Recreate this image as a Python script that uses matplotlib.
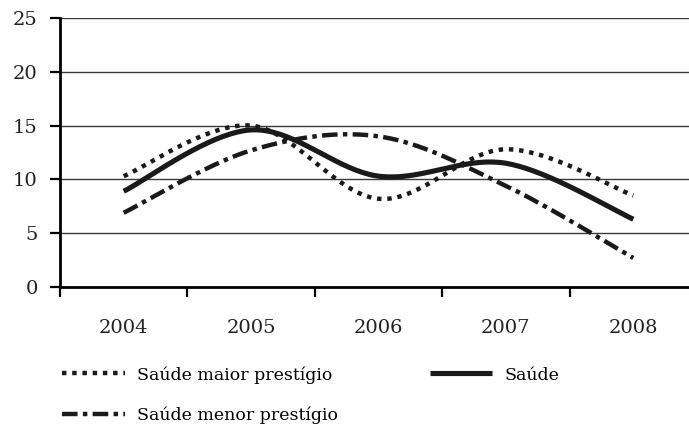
"""Line chart: Saúde, maior / menor prestígio, 2004-2008"""

import numpy as np
import matplotlib
matplotlib.use("Agg")
import matplotlib.pyplot as plt

plt.rcParams['font.family'] = ['DejaVu Serif']

years = ["2004", "2005", "2006", "2007", "2008"]
maior = [10.3, 15.0, 8.2, 12.8, 8.5]
saude = [8.9, 14.6, 10.3, 11.5, 6.3]
menor = [6.9, 12.7, 14.0, 9.4, 2.7]


def smooth(vals, n=40):
    """Excel-like smoothed line (Catmull-Rom as cubic Bezier)"""
    pts = np.column_stack([np.arange(len(vals)), vals]).astype(float)
    pad = np.vstack([pts[0], pts, pts[-1]])
    t = np.linspace(0, 1, n)[:, None]
    out = []
    for i in range(len(pts) - 1):
        p0, p1, p2, p3 = pad[i], pad[i + 1], pad[i + 2], pad[i + 3]
        c1 = p1 + (p2 - p0) / 6
        c2 = p2 - (p3 - p1) / 6
        seg = (1 - t)**3 * p1 + 3 * (1 - t)**2 * t * c1 + 3 * (1 - t) * t**2 * c2 + t**3 * p2
        out.append(seg if i == 0 else seg[1:])
    s = np.vstack(out)
    return s[:, 0], s[:, 1]


fig = plt.figure(figsize=(6.89, 4.26), dpi=100)
ax = fig.add_axes([60 / 689, 1 - 287 / 426, 637 / 689, 269 / 426])

ax.set_xlim(-0.5, 4.5)
ax.set_ylim(0, 25)
ax.set_yticks(range(0, 26, 5))
ax.yaxis.grid(True, color="#3a3a3a", linewidth=1.0)
ax.set_axisbelow(True)

for side in ["top", "right"]:
    ax.spines[side].set_visible(False)
ax.spines["left"].set_linewidth(2.0)
ax.spines["bottom"].set_linewidth(2.0)

ax.set_xticks(np.arange(-0.5, 5, 1.0))
ax.set_xticklabels([])
ax.set_xticks(range(len(years)), minor=True)
ax.set_xticklabels(years, minor=True)
ax.tick_params(axis="x", which="major", direction="out", length=7, width=1.6)
ax.tick_params(axis="x", which="minor", length=0, pad=23, labelsize=14, colors="#222222")
ax.tick_params(axis="y", direction="out", length=7, width=1.6, pad=9, labelsize=14, colors="#222222")
ax.tick_params(axis="both", which="both", color="black")

x, y = smooth(maior)
l1, = ax.plot(x, y, color="#1a1a1a", lw=3.2, dashes=(1, 1.3), dash_capstyle="butt",
              label="Saúde maior prestígio")
x, y = smooth(saude)
l2, = ax.plot(x, y, color="#1a1a1a", lw=3.7, solid_capstyle="butt", label="Saúde")
x, y = smooth(menor)
l3, = ax.plot(x, y, color="#1a1a1a", lw=3.2, dashes=(3.5, 1.2, 1, 1.2), dash_capstyle="butt",
              label="Saúde menor prestígio")

fig.legend(handles=[l1, l3, l2], ncol=2, loc="upper left", bbox_to_anchor=(62 / 689, 1 - 366 / 426),
           frameon=False, fontsize=12.5, handlelength=3.6, handletextpad=0.7,
           columnspacing=5.3, labelspacing=1.35, borderpad=0, borderaxespad=0)

fig.savefig("out.png", dpi=100)
